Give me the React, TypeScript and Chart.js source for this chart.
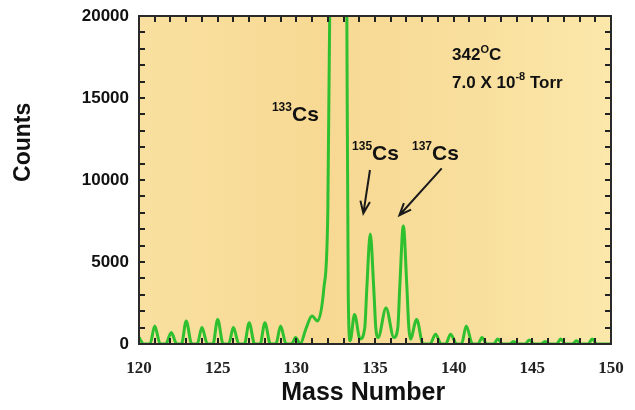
import React, { useEffect, useRef } from "react";
import { Chart, registerables } from "chart.js";

Chart.register(...registerables);

// Spectrum: mass number (x) and counts (y)
const massPoints = [
  120.0, 120.3, 120.7, 121.0, 121.35, 121.7, 122.05, 122.4, 122.7, 123.0, 123.35, 123.7,
  124.0, 124.35, 124.7, 125.0, 125.35, 125.7, 126.0, 126.35, 126.7, 127.0, 127.35, 127.7,
  128.0, 128.35, 128.7, 129.0, 129.35, 129.7, 129.95, 130.25, 130.6, 131.0, 131.35, 131.75,
  132.0, 132.12, 132.25, 132.65, 133.1, 133.21, 133.3, 133.42, 133.7, 134.05, 134.35, 134.48,
  134.7, 134.92, 135.05, 135.2, 135.7, 136.2, 136.45, 136.58, 136.8, 137.02, 137.15, 137.25,
  137.65, 138.05, 138.5, 138.85, 139.2, 139.5, 139.8, 140.2, 140.5, 140.8, 141.2, 141.55,
  141.8, 142.1, 142.55, 142.8, 143.1, 143.55, 143.8, 144.1, 144.55, 144.8, 145.1, 145.55,
  145.8, 146.1, 146.55, 146.8, 147.1, 147.55, 147.8, 148.1, 148.55, 148.8, 149.1, 150.0,
];
const counts = [
  400, 0, 0, 1100, 0, 0, 700, 0, 0, 1400, 0, 0,
  1000, 0, 0, 1500, 0, 0, 1000, 0, 0, 1300, 0, 0,
  1300, 0, 0, 1100, 0, 0, 400, 0, 900, 1700, 1400, 3400,
  8000, 20000, 45000, 60000, 45000, 20000, 3000, 200, 1800, 300, 1000, 3400,
  6700, 3400, 1000, 400, 2200, 400, 1000, 3600, 7200, 3600, 1000, 300,
  1500, 0, 0, 600, 0, 0, 600, 0, 0, 1100, 0, 0,
  400, 0, 0, 300, 0, 0, 150, 0, 0, 250, 0, 0,
  150, 0, 0, 300, 0, 0, 200, 0, 0, 300, 0, 0,
];

const xMin = 120;
const xMax = 150;
const xStep = 5;
const xMinorStep = 1;
const yMin = 0;
const yMax = 20000;
const yStep = 5000;
const yMinorStep = 1000;

const xTitle = "Mass Number";
const yTitle = "Counts";

// Isotope labels (superscript, main) anchored in data units
const isoSup = ["133", "135", "137"];
const isoMain = "Cs";
const isoMass = [128.45, 133.54, 137.35];
const isoCounts = [13600, 11220, 11220];

// Arrows: from (mass, counts) to (mass, counts)
const arrowFromMass = [134.68, 139.24];
const arrowFromCounts = [10610, 10710];
const arrowToMass = [134.26, 136.55];
const arrowToCounts = [7970, 7850];

// Conditions text
const condMass = 139.9;
const condCounts = [17320, 15610];

const decorPlugin = {
  id: "decor",
  beforeDraw(chart: any) {
    const { ctx, chartArea: a } = chart;
    ctx.save();
    ctx.fillStyle = "#ffffff";
    ctx.fillRect(0, 0, chart.width, chart.height);
    const g = ctx.createLinearGradient(a.left, 0, a.right, 0);
    g.addColorStop(0, "#F9E0A0");
    g.addColorStop(0.4, "#F7D993");
    g.addColorStop(0.65, "#F8DD9B");
    g.addColorStop(1, "#FBE8AA");
    ctx.fillStyle = g;
    ctx.fillRect(a.left, a.top, a.right - a.left, a.bottom - a.top);
    ctx.restore();
  },
  afterDraw(chart: any) {
    const { ctx, chartArea: a } = chart;
    const xs = chart.scales.x;
    const ys = chart.scales.y;
    ctx.save();
    // minor ticks, inward on all four sides
    ctx.strokeStyle = "#222";
    ctx.lineWidth = 2;
    const tl = 6;
    ctx.beginPath();
    for (let m = xMin + xMinorStep; m < xMax; m += xMinorStep) {
      const px = Math.round(xs.getPixelForValue(m));
      ctx.moveTo(px, a.bottom);
      ctx.lineTo(px, a.bottom - tl);
      ctx.moveTo(px, a.top);
      ctx.lineTo(px, a.top + tl);
    }
    for (let v = yMin + yMinorStep; v < yMax; v += yMinorStep) {
      const py = Math.round(ys.getPixelForValue(v));
      ctx.moveTo(a.left, py);
      ctx.lineTo(a.left + tl, py);
      ctx.moveTo(a.right, py);
      ctx.lineTo(a.right - tl, py);
    }
    ctx.stroke();
    // frame
    ctx.strokeStyle = "#2a2a2a";
    ctx.lineWidth = 2;
    ctx.strokeRect(a.left, a.top, a.right - a.left, a.bottom - a.top);

    // axis titles
    ctx.fillStyle = "#111";
    ctx.font = "bold 25px 'Liberation Sans', Arial, sans-serif";
    ctx.textAlign = "center";
    ctx.textBaseline = "middle";
    ctx.fillText(xTitle, a.left + (a.right - a.left) * 0.475, 393);
    ctx.save();
    ctx.translate(24, a.top + (a.bottom - a.top) * 0.385);
    ctx.rotate(-Math.PI / 2);
    ctx.font = "bold 23px 'Liberation Sans', Arial, sans-serif";
    ctx.fillText(yTitle, 0, 0);
    ctx.restore();

    // isotope labels
    ctx.textAlign = "left";
    ctx.textBaseline = "alphabetic";
    for (let i = 0; i < isoSup.length; i++) {
      const px = xs.getPixelForValue(isoMass[i]);
      const py = ys.getPixelForValue(isoCounts[i]);
      ctx.font = "bold 12px 'Liberation Sans', Arial, sans-serif";
      ctx.fillText(isoSup[i], px, py - 10);
      const w = ctx.measureText(isoSup[i]).width;
      ctx.font = "bold 21px 'Liberation Sans', Arial, sans-serif";
      ctx.fillText(isoMain, px + w, py);
    }

    // arrows
    ctx.strokeStyle = "#1a1a1a";
    ctx.lineWidth = 2;
    for (let i = 0; i < arrowFromMass.length; i++) {
      const x1 = xs.getPixelForValue(arrowFromMass[i]);
      const y1 = ys.getPixelForValue(arrowFromCounts[i]);
      const x2 = xs.getPixelForValue(arrowToMass[i]);
      const y2 = ys.getPixelForValue(arrowToCounts[i]);
      const ang = Math.atan2(y2 - y1, x2 - x1);
      const hl = 13;
      const ha = 0.38;
      ctx.beginPath();
      ctx.moveTo(x1, y1);
      ctx.lineTo(x2, y2);
      ctx.moveTo(x2 - hl * Math.cos(ang - ha), y2 - hl * Math.sin(ang - ha));
      ctx.lineTo(x2, y2);
      ctx.lineTo(x2 - hl * Math.cos(ang + ha), y2 - hl * Math.sin(ang + ha));
      ctx.stroke();
    }

    // conditions
    const cx = xs.getPixelForValue(condMass);
    const cy1 = ys.getPixelForValue(condCounts[0]);
    const cy2 = ys.getPixelForValue(condCounts[1]);
    const big = "bold 17px 'Liberation Sans', Arial, sans-serif";
    const small = "bold 11px 'Liberation Sans', Arial, sans-serif";
    let x = cx;
    ctx.font = big;
    ctx.fillText("342", x, cy1);
    x += ctx.measureText("342").width;
    ctx.font = small;
    ctx.fillText("O", x, cy1 - 7);
    x += ctx.measureText("O").width;
    ctx.font = big;
    ctx.fillText("C", x, cy1);
    x = cx;
    ctx.fillText("7.0 X 10", x, cy2);
    x += ctx.measureText("7.0 X 10").width;
    ctx.font = small;
    ctx.fillText("-8", x, cy2 - 8);
    x += ctx.measureText("-8").width;
    ctx.font = big;
    ctx.fillText(" Torr", x, cy2);
    ctx.restore();
  },
};

export default function App() {
  const ref = useRef<HTMLCanvasElement | null>(null);
  useEffect(() => {
    document.body.style.margin = "0";
    const canvas = ref.current;
    if (!canvas) return;
    const data = massPoints.map((m, i) => ({ x: m, y: counts[i] }));
    const chart = new Chart(canvas, {
      type: "line",
      data: {
        datasets: [
          {
            data,
            borderColor: "#2FC02F",
            borderWidth: 3,
            pointRadius: 0,
            fill: false,
            cubicInterpolationMode: "monotone",
          },
        ],
      },
      options: {
        animation: false,
        responsive: false,
        devicePixelRatio: 1,
        layout: { padding: { left: 0, right: 24, top: 16, bottom: 0 } },
        plugins: {
          legend: { display: false },
          tooltip: { enabled: false },
          title: { display: false },
        },
        scales: {
          x: {
            type: "linear",
            min: xMin,
            max: xMax,
            grid: { display: false, drawTicks: false },
            border: { display: false },
            ticks: {
              stepSize: xStep,
              padding: 14,
              color: "#222",
              font: { family: "'Liberation Serif', 'Times New Roman', serif", weight: "bold", size: 17 },
              maxRotation: 0,
              callback: (v: any) => String(v),
            },
            afterFit(scale: any) {
              scale.height = 66;
              scale.paddingLeft = 0;
              scale.paddingRight = 0;
            },
          },
          y: {
            type: "linear",
            min: yMin,
            max: yMax,
            grid: { display: false, drawTicks: false },
            border: { display: false },
            ticks: {
              stepSize: yStep,
              padding: 10,
              color: "#111",
              font: { family: "'Liberation Sans', Arial, sans-serif", weight: "bold", size: 17 },
              callback: (v: any) => String(v),
            },
            afterFit(scale: any) {
              scale.width = 139;
              scale.paddingTop = 0;
              scale.paddingBottom = 0;
            },
          },
        },
      },
      plugins: [decorPlugin],
    } as any);
    return () => chart.destroy();
  }, []);
  return (
    <div style={{ position: "absolute", left: 0, top: 0, width: 635, height: 410 }}>
      <canvas ref={ref} width={635} height={410} style={{ display: "block" }} />
    </div>
  );
}
